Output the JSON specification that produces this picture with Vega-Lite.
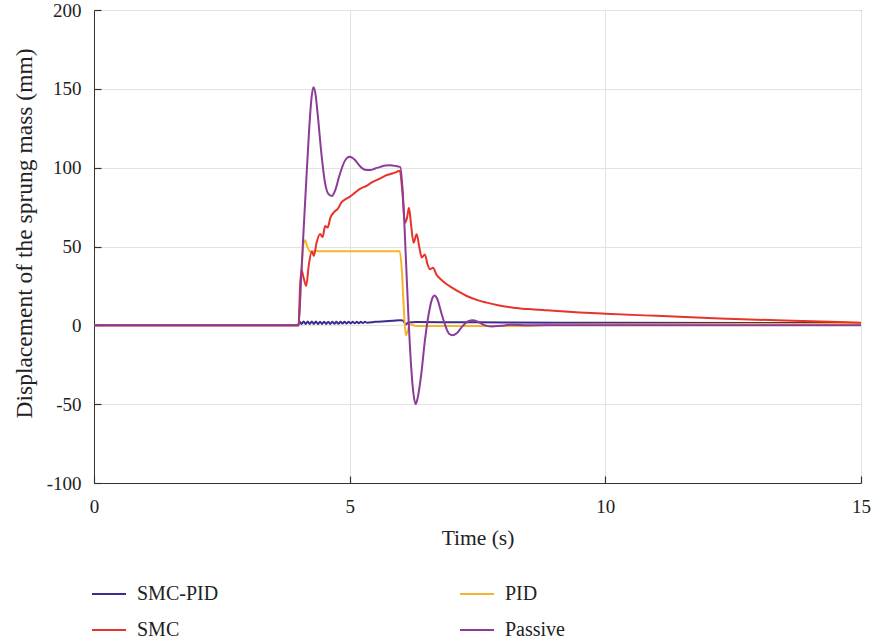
{
  "$schema": "https://vega.github.io/schema/vega-lite/v6.json",
  "width": 767,
  "height": 473,
  "autosize": "none",
  "padding": {"left": 94, "top": 10, "right": 10, "bottom": 159},
  "background": "white",
  "config": {
    "font": "Liberation Serif",
    "view": {"stroke": "#444", "strokeWidth": 1},
    "axis": {
      "labelFont": "Liberation Serif",
      "titleFont": "Liberation Serif",
      "labelFontSize": 19,
      "titleFontWeight": "normal",
      "labelColor": "#222",
      "titleColor": "#222",
      "gridColor": "#e3e3e3",
      "gridWidth": 1,
      "domainColor": "#333",
      "ticks": true,
      "tickColor": "#333",
      "tickSize": -7,
      "tickWidth": 1.2,
      "labelExpr": "'' + datum.value"
    },
    "legend": {
      "labelFont": "Liberation Serif",
      "labelFontSize": 20,
      "labelColor": "#222"
    }
  },
  "data": {
    "values": [
      {"t": 0, "v": 0, "s": "SMC-PID"},
      {"t": 4.0, "v": 0, "s": "SMC-PID"},
      {"t": 4.02, "v": 2.4, "s": "SMC-PID"},
      {"t": 4.06, "v": 0.8, "s": "SMC-PID"},
      {"t": 4.10, "v": 2.4, "s": "SMC-PID"},
      {"t": 4.14, "v": 0.8, "s": "SMC-PID"},
      {"t": 4.18, "v": 2.4, "s": "SMC-PID"},
      {"t": 4.22, "v": 0.8, "s": "SMC-PID"},
      {"t": 4.26, "v": 2.4, "s": "SMC-PID"},
      {"t": 4.30, "v": 0.8, "s": "SMC-PID"},
      {"t": 4.34, "v": 2.4, "s": "SMC-PID"},
      {"t": 4.38, "v": 0.8, "s": "SMC-PID"},
      {"t": 4.42, "v": 2.3, "s": "SMC-PID"},
      {"t": 4.46, "v": 0.9, "s": "SMC-PID"},
      {"t": 4.50, "v": 2.3, "s": "SMC-PID"},
      {"t": 4.54, "v": 0.9, "s": "SMC-PID"},
      {"t": 4.58, "v": 2.3, "s": "SMC-PID"},
      {"t": 4.62, "v": 0.9, "s": "SMC-PID"},
      {"t": 4.66, "v": 2.3, "s": "SMC-PID"},
      {"t": 4.70, "v": 1.0, "s": "SMC-PID"},
      {"t": 4.74, "v": 2.2, "s": "SMC-PID"},
      {"t": 4.78, "v": 1.0, "s": "SMC-PID"},
      {"t": 4.82, "v": 2.2, "s": "SMC-PID"},
      {"t": 4.86, "v": 1.1, "s": "SMC-PID"},
      {"t": 4.90, "v": 2.2, "s": "SMC-PID"},
      {"t": 4.94, "v": 1.1, "s": "SMC-PID"},
      {"t": 4.98, "v": 2.2, "s": "SMC-PID"},
      {"t": 5.02, "v": 1.2, "s": "SMC-PID"},
      {"t": 5.06, "v": 2.2, "s": "SMC-PID"},
      {"t": 5.10, "v": 1.3, "s": "SMC-PID"},
      {"t": 5.14, "v": 2.2, "s": "SMC-PID"},
      {"t": 5.18, "v": 1.4, "s": "SMC-PID"},
      {"t": 5.22, "v": 2.2, "s": "SMC-PID"},
      {"t": 5.26, "v": 1.5, "s": "SMC-PID"},
      {"t": 5.30, "v": 2.2, "s": "SMC-PID"},
      {"t": 5.34, "v": 1.7, "s": "SMC-PID"},
      {"t": 5.5, "v": 2.2, "s": "SMC-PID"},
      {"t": 5.7, "v": 2.6, "s": "SMC-PID"},
      {"t": 5.85, "v": 2.9, "s": "SMC-PID"},
      {"t": 5.98, "v": 3.2, "s": "SMC-PID"},
      {"t": 6.04, "v": 3.0, "s": "SMC-PID"},
      {"t": 6.1, "v": 0.6, "s": "SMC-PID"},
      {"t": 6.15, "v": 1.8, "s": "SMC-PID"},
      {"t": 6.3, "v": 2.1, "s": "SMC-PID"},
      {"t": 7.0, "v": 2.0, "s": "SMC-PID"},
      {"t": 8.0, "v": 1.8, "s": "SMC-PID"},
      {"t": 10.0, "v": 1.6, "s": "SMC-PID"},
      {"t": 15.0, "v": 1.5, "s": "SMC-PID"},

      {"t": 0, "v": 0, "s": "PID"},
      {"t": 4.0, "v": 0, "s": "PID"},
      {"t": 4.05, "v": 30, "s": "PID"},
      {"t": 4.1, "v": 52, "s": "PID"},
      {"t": 4.13, "v": 54, "s": "PID"},
      {"t": 4.17, "v": 50, "s": "PID"},
      {"t": 4.22, "v": 47, "s": "PID"},
      {"t": 4.26, "v": 46.3, "s": "PID"},
      {"t": 4.32, "v": 47.3, "s": "PID"},
      {"t": 4.4, "v": 47, "s": "PID"},
      {"t": 5.98, "v": 47, "s": "PID"},
      {"t": 6.02, "v": 35, "s": "PID"},
      {"t": 6.06, "v": 10, "s": "PID"},
      {"t": 6.1, "v": -6.3, "s": "PID"},
      {"t": 6.14, "v": -3, "s": "PID"},
      {"t": 6.18, "v": 0.8, "s": "PID"},
      {"t": 6.23, "v": 0.2, "s": "PID"},
      {"t": 6.3, "v": -0.4, "s": "PID"},
      {"t": 8.5, "v": -0.4, "s": "PID"},
      {"t": 9.0, "v": 0.4, "s": "PID"},
      {"t": 15.0, "v": 0.9, "s": "PID"},

      {"t": 0, "v": 0, "s": "SMC"},
      {"t": 4.0, "v": 0, "s": "SMC"},
      {"t": 4.03, "v": 25, "s": "SMC"},
      {"t": 4.06, "v": 35, "s": "SMC"},
      {"t": 4.1, "v": 30, "s": "SMC"},
      {"t": 4.15, "v": 25, "s": "SMC"},
      {"t": 4.2, "v": 38, "s": "SMC"},
      {"t": 4.26, "v": 47, "s": "SMC"},
      {"t": 4.3, "v": 44, "s": "SMC"},
      {"t": 4.35, "v": 52, "s": "SMC"},
      {"t": 4.42, "v": 58, "s": "SMC"},
      {"t": 4.47, "v": 56, "s": "SMC"},
      {"t": 4.52, "v": 63, "s": "SMC"},
      {"t": 4.57, "v": 62, "s": "SMC"},
      {"t": 4.62, "v": 68, "s": "SMC"},
      {"t": 4.7, "v": 72, "s": "SMC"},
      {"t": 4.77, "v": 74, "s": "SMC"},
      {"t": 4.84, "v": 78, "s": "SMC"},
      {"t": 4.92, "v": 80, "s": "SMC"},
      {"t": 5.0, "v": 81.5, "s": "SMC"},
      {"t": 5.1, "v": 84, "s": "SMC"},
      {"t": 5.2, "v": 86.5, "s": "SMC"},
      {"t": 5.33, "v": 88.5, "s": "SMC"},
      {"t": 5.45, "v": 91, "s": "SMC"},
      {"t": 5.59, "v": 93, "s": "SMC"},
      {"t": 5.7, "v": 95, "s": "SMC"},
      {"t": 5.8, "v": 96, "s": "SMC"},
      {"t": 5.9, "v": 97, "s": "SMC"},
      {"t": 5.98, "v": 98, "s": "SMC"},
      {"t": 6.03, "v": 85, "s": "SMC"},
      {"t": 6.08, "v": 65, "s": "SMC"},
      {"t": 6.12, "v": 68, "s": "SMC"},
      {"t": 6.16, "v": 74.6, "s": "SMC"},
      {"t": 6.2, "v": 64, "s": "SMC"},
      {"t": 6.25, "v": 52.4, "s": "SMC"},
      {"t": 6.31, "v": 57.7, "s": "SMC"},
      {"t": 6.36, "v": 50, "s": "SMC"},
      {"t": 6.41, "v": 43, "s": "SMC"},
      {"t": 6.47, "v": 45, "s": "SMC"},
      {"t": 6.52, "v": 39, "s": "SMC"},
      {"t": 6.57, "v": 35.5, "s": "SMC"},
      {"t": 6.63, "v": 36.5, "s": "SMC"},
      {"t": 6.7, "v": 32, "s": "SMC"},
      {"t": 6.77, "v": 29.6, "s": "SMC"},
      {"t": 6.88, "v": 26.5, "s": "SMC"},
      {"t": 7.0, "v": 23.9, "s": "SMC"},
      {"t": 7.15, "v": 21, "s": "SMC"},
      {"t": 7.29, "v": 18.6, "s": "SMC"},
      {"t": 7.5, "v": 16, "s": "SMC"},
      {"t": 7.68, "v": 14.4, "s": "SMC"},
      {"t": 7.9, "v": 12.7, "s": "SMC"},
      {"t": 8.2, "v": 11.2, "s": "SMC"},
      {"t": 8.5, "v": 10.3, "s": "SMC"},
      {"t": 8.85, "v": 9.5, "s": "SMC"},
      {"t": 9.5, "v": 8.2, "s": "SMC"},
      {"t": 10.0, "v": 7.4, "s": "SMC"},
      {"t": 11.0, "v": 6.0, "s": "SMC"},
      {"t": 12.24, "v": 4.4, "s": "SMC"},
      {"t": 13.5, "v": 3.0, "s": "SMC"},
      {"t": 15.0, "v": 1.7, "s": "SMC"},

      {"t": 0, "v": 0, "s": "Passive"},
      {"t": 4.0, "v": 0, "s": "Passive"},
      {"t": 4.05, "v": 30, "s": "Passive"},
      {"t": 4.1, "v": 61, "s": "Passive"},
      {"t": 4.15, "v": 91, "s": "Passive"},
      {"t": 4.2, "v": 120, "s": "Passive"},
      {"t": 4.25, "v": 143, "s": "Passive"},
      {"t": 4.29, "v": 151, "s": "Passive"},
      {"t": 4.33, "v": 147, "s": "Passive"},
      {"t": 4.38, "v": 132, "s": "Passive"},
      {"t": 4.45, "v": 108, "s": "Passive"},
      {"t": 4.52, "v": 90, "s": "Passive"},
      {"t": 4.58, "v": 83.5, "s": "Passive"},
      {"t": 4.65, "v": 82, "s": "Passive"},
      {"t": 4.72, "v": 86, "s": "Passive"},
      {"t": 4.8, "v": 95, "s": "Passive"},
      {"t": 4.9, "v": 104, "s": "Passive"},
      {"t": 5.0, "v": 107, "s": "Passive"},
      {"t": 5.1, "v": 105, "s": "Passive"},
      {"t": 5.2, "v": 101, "s": "Passive"},
      {"t": 5.3, "v": 98.7, "s": "Passive"},
      {"t": 5.4, "v": 98.5, "s": "Passive"},
      {"t": 5.5, "v": 99.5, "s": "Passive"},
      {"t": 5.6, "v": 100.5, "s": "Passive"},
      {"t": 5.7, "v": 101.3, "s": "Passive"},
      {"t": 5.8, "v": 101.5, "s": "Passive"},
      {"t": 5.9, "v": 101, "s": "Passive"},
      {"t": 5.99, "v": 100.3, "s": "Passive"},
      {"t": 6.05, "v": 78, "s": "Passive"},
      {"t": 6.1, "v": 42, "s": "Passive"},
      {"t": 6.15, "v": 5, "s": "Passive"},
      {"t": 6.2, "v": -25, "s": "Passive"},
      {"t": 6.25, "v": -44, "s": "Passive"},
      {"t": 6.29, "v": -50, "s": "Passive"},
      {"t": 6.33, "v": -46, "s": "Passive"},
      {"t": 6.4, "v": -31, "s": "Passive"},
      {"t": 6.47, "v": -10, "s": "Passive"},
      {"t": 6.55, "v": 8, "s": "Passive"},
      {"t": 6.62, "v": 17.5, "s": "Passive"},
      {"t": 6.66, "v": 19, "s": "Passive"},
      {"t": 6.71, "v": 17, "s": "Passive"},
      {"t": 6.8, "v": 7, "s": "Passive"},
      {"t": 6.88, "v": -1, "s": "Passive"},
      {"t": 6.95, "v": -5.5, "s": "Passive"},
      {"t": 7.01, "v": -6.3, "s": "Passive"},
      {"t": 7.1, "v": -4.8, "s": "Passive"},
      {"t": 7.22, "v": 0, "s": "Passive"},
      {"t": 7.32, "v": 2.6, "s": "Passive"},
      {"t": 7.41, "v": 3.2, "s": "Passive"},
      {"t": 7.5, "v": 2.4, "s": "Passive"},
      {"t": 7.62, "v": 0.3, "s": "Passive"},
      {"t": 7.78, "v": -0.7, "s": "Passive"},
      {"t": 7.95, "v": -0.3, "s": "Passive"},
      {"t": 8.15, "v": 0.3, "s": "Passive"},
      {"t": 8.5, "v": 0, "s": "Passive"},
      {"t": 15.0, "v": 0, "s": "Passive"}
    ]
  },
  "mark": {"type": "line", "strokeWidth": 2, "interpolate": "monotone"},
  "encoding": {
    "x": {
      "field": "t",
      "type": "quantitative",
      "scale": {"domain": [0, 15], "nice": false, "zero": false},
      "axis": {"values": [0, 5, 10, 15], "title": "Time (s)", "titleFontSize": 21.5, "labelPadding": 21, "titlePadding": 11, "labelFlush": false}
    },
    "y": {
      "field": "v",
      "type": "quantitative",
      "scale": {"domain": [-100, 200], "nice": false},
      "axis": {"values": [-100, -50, 0, 50, 100, 150, 200], "title": "Displacement of the sprung mass (mm)", "titleFontSize": 23.5, "titleY": 223, "labelPadding": 20, "titlePadding": 10}
    },
    "color": {
      "field": "s",
      "type": "nominal",
      "scale": {
        "domain": ["SMC-PID", "SMC", "PID", "Passive"],
        "range": ["#3d2c8d", "#e8332b", "#f6b42b", "#8c3b98"]
      },
      "legend": {
        "title": null,
        "orient": "none",
        "legendX": -3,
        "legendY": 566,
        "direction": "vertical",
        "columns": 2,
        "columnPadding": 237,
        "rowPadding": 8,
        "symbolType": "stroke",
        "symbolSize": 1156,
        "symbolStrokeWidth": 2,
        "labelOffset": 10,
        "padding": 0
      }
    },
    "order": {"field": "t", "type": "quantitative"}
  }
}
